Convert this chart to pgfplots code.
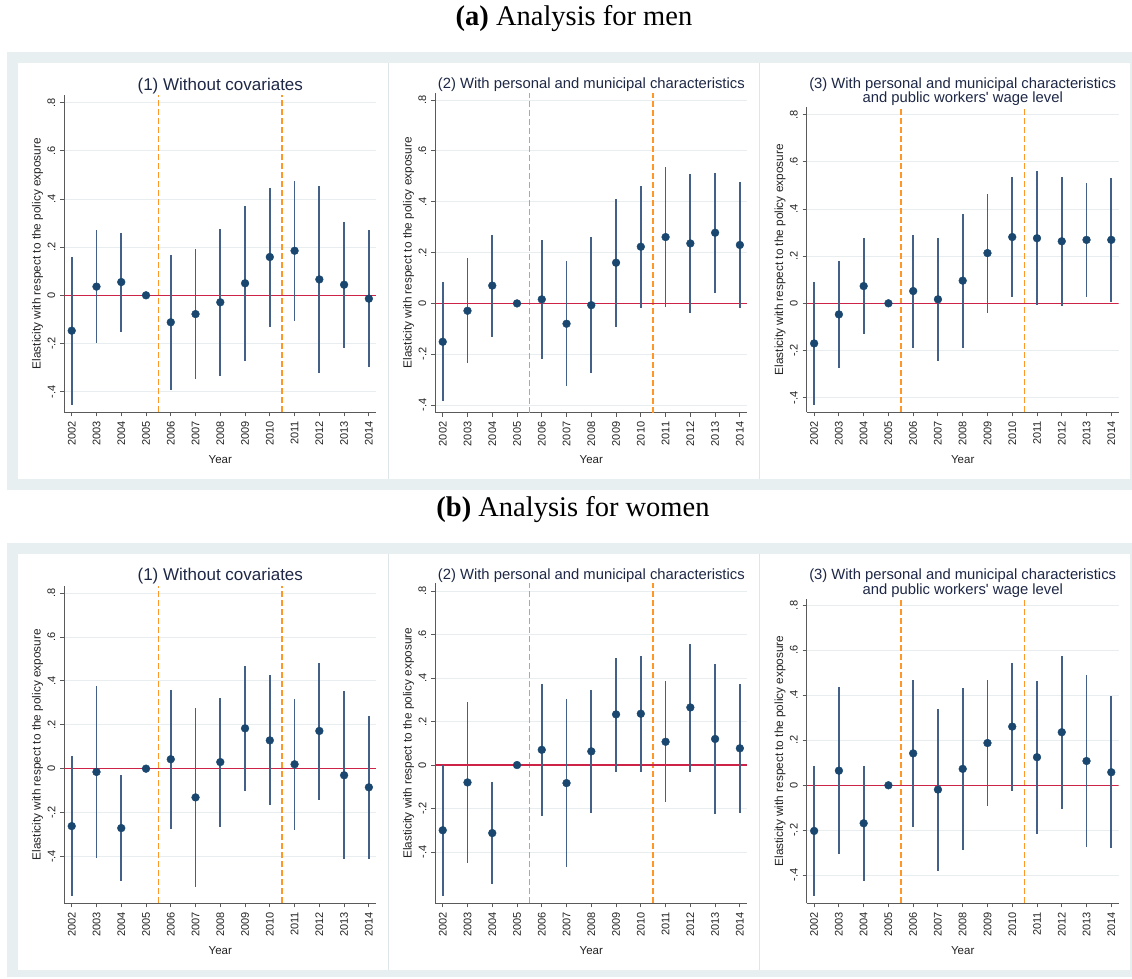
\documentclass[border=0pt]{standalone}
\usepackage{fontspec}
\setmainfont{Liberation Sans}
\newfontfamily\serifttl{Liberation Serif}
\usepackage{pgfplots}
\usepackage{pgfplotstable}
\pgfplotsset{compat=1.18}

\definecolor{bandc}{RGB}{232,239,241}
\definecolor{sepc}{RGB}{222,230,234}
\definecolor{navyc}{RGB}{26,71,111}
\definecolor{cic}{RGB}{66,96,136}
\definecolor{zeroc}{RGB}{205,35,70}
\definecolor{dashc}{RGB}{255,150,40}
\definecolor{gridc}{RGB}{232,238,240}
\definecolor{axisc}{RGB}{90,90,90}
\definecolor{titlec}{RGB}{30,40,70}
\definecolor{textc}{RGB}{35,35,35}

% x = year, y = estimate, lo/hi = confidence interval
\pgfplotstableread{
x y lo hi
2002 -0.147 -0.455 0.161
2003 0.036 -0.199 0.271
2004 0.055 -0.151 0.260
2005 0 0 0
2006 -0.112 -0.393 0.167
2007 -0.078 -0.346 0.191
2008 -0.029 -0.334 0.275
2009 0.050 -0.271 0.371
2010 0.159 -0.130 0.447
2011 0.185 -0.105 0.476
2012 0.066 -0.324 0.455
2013 0.044 -0.217 0.306
2014 -0.014 -0.299 0.270
}\menA
\pgfplotstableread{
x y lo hi
2002 -0.151 -0.383 0.083
2003 -0.029 -0.236 0.177
2004 0.070 -0.134 0.271
2005 0 0 0
2006 0.016 -0.220 0.249
2007 -0.080 -0.325 0.167
2008 -0.007 -0.275 0.262
2009 0.160 -0.092 0.412
2010 0.223 -0.017 0.462
2011 0.261 -0.013 0.535
2012 0.236 -0.039 0.511
2013 0.278 0.041 0.515
2014 0.230 -0.020 0.477
}\menB
\pgfplotstableread{
x y lo hi
2002 -0.170 -0.431 0.090
2003 -0.047 -0.273 0.180
2004 0.073 -0.131 0.276
2005 0 0 0
2006 0.052 -0.188 0.291
2007 0.017 -0.245 0.276
2008 0.096 -0.188 0.379
2009 0.213 -0.040 0.465
2010 0.281 0.027 0.536
2011 0.276 -0.008 0.561
2012 0.263 -0.011 0.537
2013 0.269 0.027 0.510
2014 0.269 0.007 0.530
}\menC
\pgfplotstableread{
x y lo hi
2002 -0.262 -0.581 0.058
2003 -0.015 -0.409 0.377
2004 -0.271 -0.511 -0.030
2005 0 0 0
2006 0.043 -0.274 0.359
2007 -0.131 -0.538 0.275
2008 0.030 -0.265 0.324
2009 0.184 -0.100 0.468
2010 0.129 -0.167 0.427
2011 0.020 -0.280 0.318
2012 0.172 -0.143 0.484
2013 -0.030 -0.414 0.353
2014 -0.085 -0.411 0.240
}\womA
\pgfplotstableread{
x y lo hi
2002 -0.300 -0.602 0.000
2003 -0.080 -0.449 0.290
2004 -0.313 -0.547 -0.078
2005 0 0 0
2006 0.070 -0.234 0.374
2007 -0.083 -0.469 0.303
2008 0.063 -0.222 0.345
2009 0.233 -0.031 0.493
2010 0.236 -0.031 0.501
2011 0.107 -0.172 0.385
2012 0.265 -0.031 0.559
2013 0.120 -0.225 0.464
2014 0.077 -0.221 0.375
}\womB
\pgfplotstableread{
x y lo hi
2002 -0.203 -0.493 0.085
2003 0.065 -0.307 0.438
2004 -0.169 -0.424 0.085
2005 0 0 0
2006 0.142 -0.184 0.468
2007 -0.019 -0.381 0.340
2008 0.073 -0.288 0.432
2009 0.188 -0.091 0.468
2010 0.261 -0.024 0.546
2011 0.125 -0.218 0.466
2012 0.236 -0.104 0.574
2013 0.108 -0.275 0.490
2014 0.058 -0.279 0.395
}\womC

\pgfplotsset{
  panel/.style={
    scale only axis, width=312pt,
    xmin=2001.7, xmax=2014.3,
    axis lines*=left,
    axis line style={axisc, line width=0.9pt},
    tick align=outside, major tick length=4pt,
    tick style={axisc, line width=0.9pt},
    xtick={2002,2003,2004,2005,2006,2007,2008,2009,2010,2011,2012,2013,2014},
    xticklabels={2002,2003,2004,2005,2006,2007,2008,2009,2010,2011,2012,2013,2014},
    ytick={-0.4,-0.2,0,0.2,0.4,0.6,0.8},
    yticklabels={-.4,-.2,0,.2,.4,.6,.8},
    ymajorgrids, grid style={gridc, line width=0.9pt},
    tick label style={font=\fontsize{11}{11}\selectfont, text=textc},
    xticklabel style={rotate=90, anchor=east, xshift=-1.5pt},
    yticklabel style={rotate=90, anchor=south, yshift=1.5pt},
    every axis x label/.style={at={(axis description cs:0.5,0)}, anchor=base, yshift=-51pt, font=\fontsize{11.5}{12}\selectfont, text=textc},
    xlabel={Year},
    every axis y label/.style={at={(axis description cs:-0.0856,0.5)}, anchor=center, rotate=90, font=\fontsize{11.8}{12}\selectfont, text=textc},
    ylabel={Elasticity with respect to the policy exposure},
    every axis title/.style={at={(axis description cs:0.5,1)}, anchor=base, align=center, text=titlec},
  },
}

\newcommand{\panelplots}[3]{%
  \addplot[dashc, line width=1.5pt, dash pattern=on 6pt off 3pt] coordinates {(2005.5,#2) (2005.5,#3)};
  \addplot[dashc, line width=1.5pt, dash pattern=on 6pt off 3pt] coordinates {(2010.5,#2) (2010.5,#3)};
  \addplot[zeroc, line width=1.5pt] coordinates {(2001.7,0) (2014.3,0)};
  \addplot[draw=none, mark=none, error bars/.cd, y dir=both, y explicit, error mark=none,
    error bar style={draw=cic, line width=1.8pt, solid}]
    table[x=x, y=y, y error plus expr=\thisrow{hi}-\thisrow{y}, y error minus expr=\thisrow{y}-\thisrow{lo}] {#1};
  \addplot[only marks, mark=*, mark size=3.9pt, color=navyc, mark options={fill=navyc, draw=navyc}] table[x=x, y=y] {#1};
}

\begin{document}
\begin{tikzpicture}
\path[use as bounding box] (0pt,0pt) rectangle (1132pt,978pt);
% backgrounds
\fill[bandc] (7pt,488pt) rectangle (1132pt,926pt);
\fill[white] (18pt,499pt) rectangle (1130pt,915.3pt);
\draw[sepc, line width=1pt] (388pt,499pt) -- (388pt,915.3pt);
\draw[sepc, line width=1pt] (759pt,499pt) -- (759pt,915.3pt);
\fill[bandc] (7pt,1pt) rectangle (1132pt,435pt);
\fill[white] (18pt,8pt) rectangle (1130pt,424pt);
\draw[sepc, line width=1pt] (388pt,8pt) -- (388pt,424pt);
\draw[sepc, line width=1pt] (759pt,8pt) -- (759pt,424pt);

\node[anchor=base, font=\serifttl\fontsize{28.5}{30}\selectfont] at (574pt,952pt) {\textbf{(a)} Analysis for men};
\node[anchor=base, font=\serifttl\fontsize{28.5}{30}\selectfont] at (573pt,461.3pt) {\textbf{(b)} Analysis for women};

% ---- men ----
\begin{axis}[panel, at={(64.3pt,565.7pt)}, anchor=south west, height=317.3pt, ymin=-0.486, ymax=0.832,
  title style={font=\fontsize{17}{17}\selectfont, yshift=5pt}, title={(1) Without covariates}]
\panelplots{\menA}{-0.486}{0.832}
\end{axis}
\begin{axis}[panel, at={(435.3pt,565.3pt)}, anchor=south west, height=320pt, ymin=-0.430, ymax=0.829,
  title style={font=\fontsize{14.8}{14.8}\selectfont, yshift=3.7pt}, title={(2) With personal and municipal characteristics}]
\panelplots{\menB}{-0.430}{0.829}
\end{axis}
\begin{axis}[panel, at={(806.7pt,565.7pt)}, anchor=south west, height=305pt, ymin=-0.462, ymax=0.831,
  title style={font=\fontsize{14.8}{14.4}\selectfont, yshift=4.6pt}, title={(3) With personal and municipal characteristics\\and public workers\textquotesingle\ wage level}]
\panelplots{\menC}{-0.462}{0.831}
\end{axis}

% ---- women ----
\begin{axis}[panel, at={(64.3pt,74.7pt)}, anchor=south west, height=317.3pt, ymin=-0.614, ymax=0.833,
  title style={font=\fontsize{17}{17}\selectfont, yshift=5pt}, title={(1) Without covariates}]
\panelplots{\womA}{-0.614}{0.833}
\end{axis}
\begin{axis}[panel, at={(435.3pt,74.7pt)}, anchor=south west, height=320pt, ymin=-0.636, ymax=0.836,
  title style={font=\fontsize{14.8}{14.8}\selectfont, yshift=3.7pt}, title={(2) With personal and municipal characteristics}]
\panelplots{\womB}{-0.636}{0.836}
\end{axis}
\begin{axis}[panel, at={(806.7pt,74.7pt)}, anchor=south west, height=304.6pt, ymin=-0.525, ymax=0.830,
  title style={font=\fontsize{14.8}{14.4}\selectfont, yshift=4.6pt}, title={(3) With personal and municipal characteristics\\and public workers\textquotesingle\ wage level}]
\panelplots{\womC}{-0.525}{0.830}
\end{axis}
\end{tikzpicture}
\end{document}
